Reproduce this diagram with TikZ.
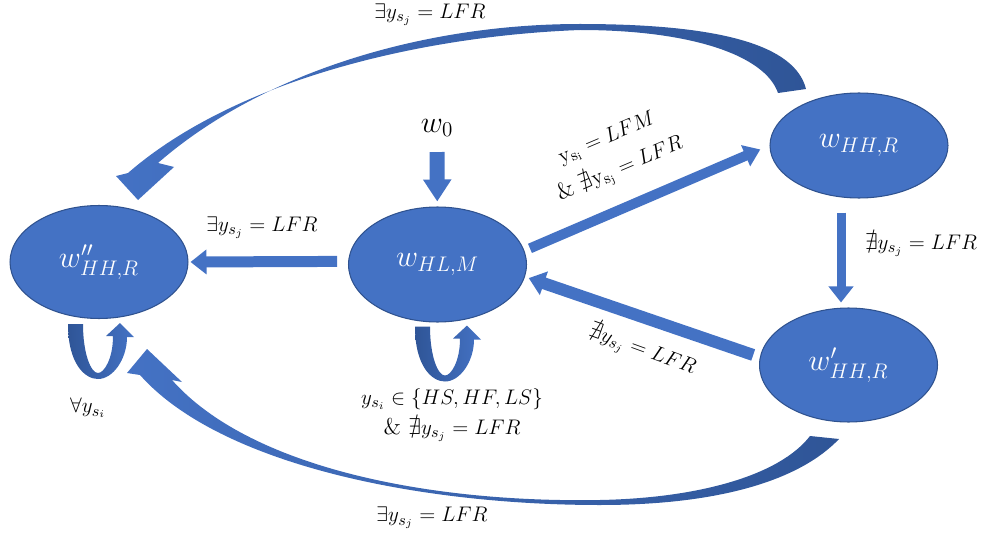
\documentclass[tikz,border=0pt]{standalone}
\usepackage{amssymb}
\usetikzlibrary{arrows.meta,calc,shapes.geometric}
\definecolor{Blue}{HTML}{4472C4}
\definecolor{BlueDark}{HTML}{2F5597}
\definecolor{Edge}{HTML}{2F528F}

\tikzset{
    uturn/.pic={
        \path[left color=BlueDark, right color=Blue]
            (-31,5) .. controls (-31,45) and (-14,60) .. (-1,60)
            .. controls (14,60) and (28,40) .. (28,18) -- (35,18) -- (21,4) -- (7,17) -- (14,17)
            .. controls (14,40) and (5,54) .. (-1,54)
            .. controls (-8,54) and (-16,35) .. (-16,5) -- cycle;
    }
}

\begin{document}
\begin{tikzpicture}[
        x=0.02cm, y=-0.02cm,
        every node/.style={font=\fontsize{13}{15}\selectfont},
        state/.style={ellipse, draw=Edge, line width=0.6pt, fill=Blue, text=white, inner sep=0pt, minimum width=3.56cm, font=\LARGE},
        block/.style={line width=0.22cm, draw=Blue, -{Triangle[length=0.32cm, width=0.48cm]}},
        curved/.style={left color=Blue, right color=BlueDark}
    ]
        \useasboundingbox (0,0) rectangle (987,544);

        \node[state, minimum height=2.26cm] (whh2) at (99,262) {$w''_{HH,R}$};
        \node[state, minimum height=2.3cm] (hlm) at (437.5,264.5) {$w_{HL,M}$};
        \node[state, minimum height=2.1cm] (whhr) at (859,145.5) {$w_{HH,R}$};
        \node[state, minimum height=2.28cm] (wphr) at (848.5,365) {$w'_{HH,R}$};
        \node (w0) at (437,128) {\LARGE $w_0$};

        % straight transitions
        \draw[block, line width=0.3cm, -{Triangle[length=0.44cm, width=0.54cm]}, shorten <=0.18cm, shorten >=0.1cm] (w0) -- (hlm);
        \draw[block, shorten <=0.22cm, shorten >=0.04cm] (hlm.178) -- (whh2.east);
        \draw[block, line width=0.2cm, -{Triangle[length=0.32cm, width=0.44cm]}, shorten <=0.12cm, shorten >=0.2cm] (hlm.9) -- (whhr.west);
        \draw[block, line width=0.18cm, shorten <=0.28cm, shorten >=0.1cm] ($(whhr.south)+(-18,0)$) -- ($(wphr.north)+(-7.5,0)$);
        \draw[block, line width=0.24cm, shorten <=0.14cm, shorten >=0.08cm] (wphr.175) -- (hlm.-8);

        % self loops
        \pic at (whh2.south) {uturn};
        \pic at ($(hlm.south)+(8.5,-1)$) {uturn};

        % long curved transitions
        \path[curved] (806,89) .. controls (795,45) and (720,24) .. (580,24)
            .. controls (420,24) and (260,74) .. (158,163)
            -- (174,167) -- (138,200) -- (116,176) -- (128,173)
            .. controls (235,80) and (420,36) .. (580,30)
            .. controls (690,30) and (765,55) .. (778,93) -- cycle;
        \path[curved] (839,439) .. controls (800,480) and (720,505) .. (600,505)
            .. controls (420,505) and (220,465) .. (140,375)
            -- (127,373) -- (147,349) -- (182,382) -- (172,380)
            .. controls (250,468) and (430,503) .. (600,500)
            .. controls (700,498) and (780,475) .. (810,436) -- cycle;

        % labels
        \node[inner sep=1pt] (lblTop) at (430,15) {$\exists y_{s_j} = LFR$};
        \node (lblLeft) at (262,228) {$\exists y_{s_j} = LFR$};
        \node (lblBottom) at (432,518) {$\exists y_{s_j} = LFR$};
        \node (lblAll) at (88,408) {$\forall y_{s_i}$};
        \node[align=center] (lblLoop) at (452,415) {$y_{s_i} \in \{HS, HF, LS\}$\\[2pt] \& $\nexists y_{s_j} = LFR$};
        \node[align=center, rotate=23] (lblUp) at (614,155) {$\mathrm{y_{s_i}} = LFM$\\[4pt] \& $\nexists \mathrm{y_{s_j}} = LFR$};
        \node (lblDown) at (921,245) {$\nexists y_{s_j} = LFR$};
        \node[rotate=-20] (lblBack) at (642,351) {$\nexists y_{s_j} = LFR$};
    \end{tikzpicture}
\end{document}
